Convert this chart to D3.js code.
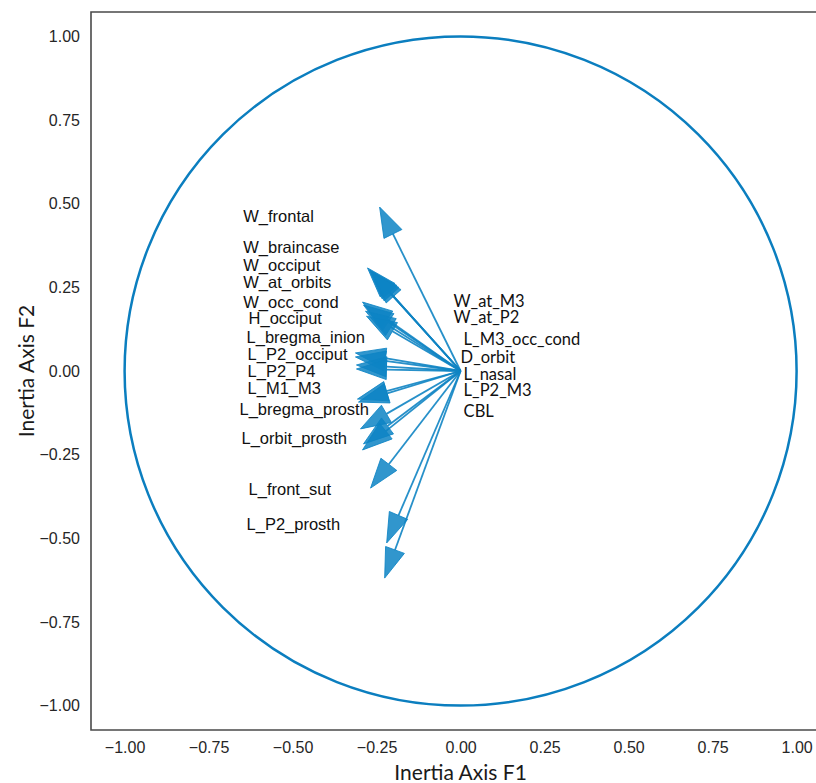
<!DOCTYPE html>
<html>
<head>
<meta charset="utf-8">
<script src="https://cdn.jsdelivr.net/npm/d3@7"></script>
<style>
  body { margin: 0; background: #fff; }
  svg { display: block; }
</style>
</head>
<body>
<svg id="chart" width="816" height="783"></svg>
<script>
// ticks shared by both axes
var tickValues = [-1, -0.75, -0.5, -0.25, 0, 0.25, 0.5, 0.75, 1];

// arrow tips (F1, F2)
var arrowX = [-0.241,
  -0.277, -0.271, -0.265, -0.259,
  -0.292, -0.289, -0.283, -0.280,
  -0.313, -0.313, -0.310, -0.310,
  -0.307, -0.304,
  -0.298, -0.289, -0.292,
  -0.268, -0.220, -0.226];
var arrowY = [0.490,
  0.308, 0.302, 0.296, 0.290,
  0.206, 0.197, 0.179, 0.164,
  0.054, 0.042, 0.018, 0.006,
  -0.084, -0.093,
  -0.173, -0.218, -0.236,
  -0.350, -0.514, -0.619];

// variable names, left column
var leftNames = ["W_frontal", "W_braincase", "W_occiput", "W_at_orbits", "W_occ_cond",
  "H_occiput", "L_bregma_inion", "L_P2_occiput", "L_P2_P4", "L_M1_M3",
  "L_bregma_prosth", "L_orbit_prosth", "L_front_sut", "L_P2_prosth"];
var leftX = [-0.647, -0.647, -0.647, -0.647, -0.647,
  -0.631, -0.637, -0.634, -0.634, -0.634,
  -0.658, -0.652, -0.631, -0.637];
var leftY = [0.464, 0.369, 0.317, 0.266, 0.206,
  0.158, 0.102, 0.051, 0.000, -0.051,
  -0.114, -0.200, -0.353, -0.458];

// variable names, next to the origin
var rightNames = ["W_at_M3", "W_at_P2", "L_M3_occ_cond", "D_orbit", "L_nasal", "L_P2_M3", "CBL"];
var rightX = [-0.021, -0.021, 0.009, 0.000, 0.009, 0.009, 0.009];
var rightY = [0.209, 0.161, 0.096, 0.042, -0.009, -0.057, -0.120];

var svg = d3.select("#chart");
var plotLeft = 91, plotTop = 12, plotBottom = 730;

var x = d3.scaleLinear().domain([-1.1, 1.1]).range([plotLeft, plotLeft + 2.2 * 336]);
var y = d3.scaleLinear().domain([-1.073, 1.073]).range([plotBottom, plotTop]);

var blue = "#0b7ebf";

// correlation circle
svg.append("ellipse")
    .attr("cx", x(0))
    .attr("cy", y(0))
    .attr("rx", x(1) - x(0))
    .attr("ry", y(0) - y(1))
    .attr("fill", "none")
    .attr("stroke", blue)
    .attr("stroke-width", 2.5);

// arrows
var headLen = 30, headHalf = 10;
var arrows = svg.append("g").attr("class", "arrows");
var ox = x(0), oy = y(0);

arrowX.forEach(function(v, i) {
  var tx = x(v), ty = y(arrowY[i]);
  var dx = tx - ox, dy = ty - oy;
  var len = Math.sqrt(dx * dx + dy * dy);
  var ux = dx / len, uy = dy / len;
  var bx = tx - ux * headLen, by = ty - uy * headLen;
  var px = -uy * headHalf, py = ux * headHalf;

  arrows.append("line")
      .attr("x1", ox).attr("y1", oy)
      .attr("x2", bx).attr("y2", by)
      .attr("stroke", "#0f84c3")
      .attr("stroke-width", 1.8)
      .attr("stroke-opacity", 0.9);

  arrows.append("path")
      .attr("d", d3.line()([[bx + px, by + py], [tx, ty], [bx - px, by - py]]) + "Z")
      .attr("fill", "#0d84c4")
      .attr("fill-opacity", 0.85)
      .attr("stroke", "#0d84c4")
      .attr("stroke-opacity", 0.85)
      .attr("stroke-width", 1);
});

// labels
svg.append("g")
  .selectAll("text")
  .data(leftNames)
  .enter().append("text")
    .attr("x", function(d, i) { return x(leftX[i]); })
    .attr("y", function(d, i) { return y(leftY[i]); })
    .attr("dy", "0.36em")
    .style("font-family", "'Liberation Sans', Arial, sans-serif")
    .style("font-size", "16.5px")
    .attr("fill", "#111")
    .text(function(d) { return d; });

svg.append("g")
  .selectAll("text")
  .data(rightNames)
  .enter().append("text")
    .attr("x", function(d, i) { return x(rightX[i]); })
    .attr("y", function(d, i) { return y(rightY[i]); })
    .attr("dy", "0.36em")
    .style("font-family", "Lato, 'Open Sans', sans-serif")
    .style("font-size", "16.5px")
    .attr("fill", "#111")
    .text(function(d) { return d; });

// axes
var fmt = d3.format(".2f");

var gx = svg.append("g")
    .attr("transform", "translate(0," + plotBottom + ")")
    .call(d3.axisBottom(x).tickValues(tickValues).tickFormat(fmt).tickSize(0).tickPadding(12));
var gy = svg.append("g")
    .attr("transform", "translate(" + plotLeft + ",0)")
    .call(d3.axisLeft(y).tickValues(tickValues).tickFormat(fmt).tickSize(0).tickPadding(11));

[gx, gy].forEach(function(g) {
  g.select(".domain").remove();
  g.selectAll("text")
    .style("font-family", "'Liberation Sans', Arial, sans-serif")
    .style("font-size", "16px")
    .attr("fill", "#262626");
});

// frame (left, top, bottom; the right side is cut off)
svg.append("path")
    .attr("d", d3.line()([[816, plotTop], [plotLeft, plotTop], [plotLeft, plotBottom], [816, plotBottom]]))
    .attr("fill", "none")
    .attr("stroke", "#4a4a4a")
    .attr("stroke-width", 1.6);

// axis titles
svg.append("text")
    .attr("x", x(0))
    .attr("y", 780)
    .attr("text-anchor", "middle")
    .style("font-family", "Lato, sans-serif")
    .style("font-size", "21px")
    .attr("fill", "#1a1a1a")
    .text("Inertia Axis F1");

svg.append("text")
    .attr("transform", "translate(34," + y(0) + ") rotate(-90)")
    .attr("text-anchor", "middle")
    .style("font-family", "Lato, sans-serif")
    .style("font-size", "21px")
    .attr("fill", "#1a1a1a")
    .text("Inertia Axis F2");
</script>
</body>
</html>
